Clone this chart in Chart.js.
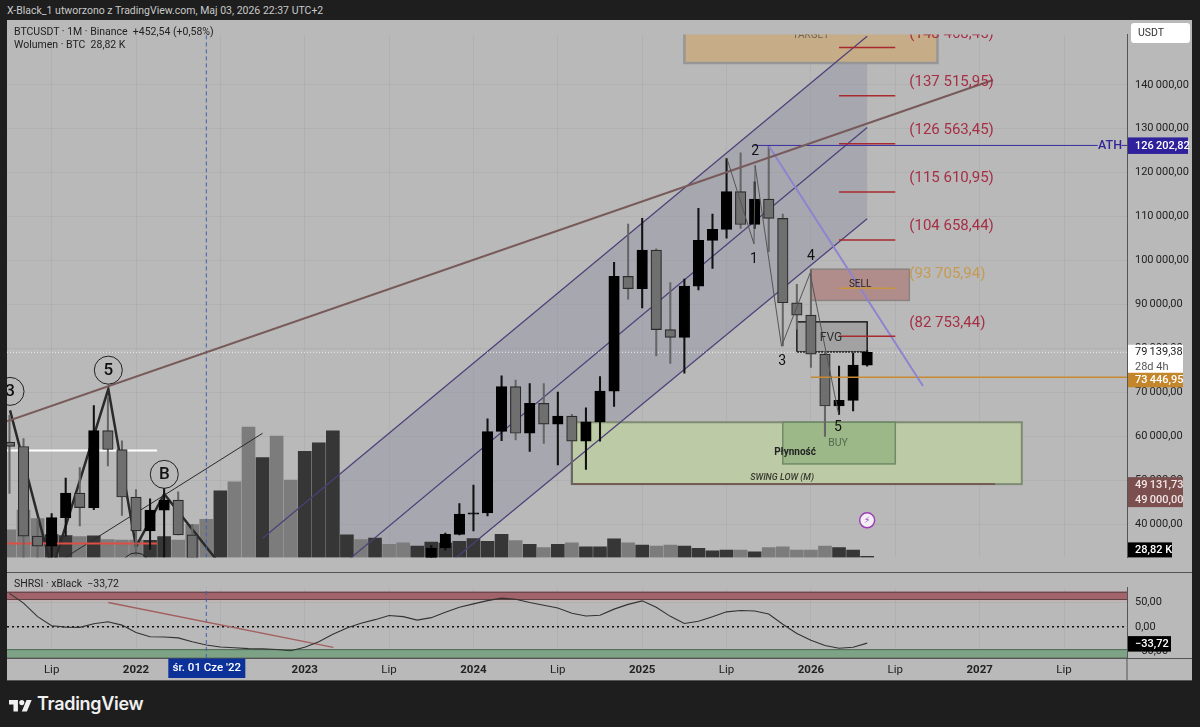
<!DOCTYPE html>
<html lang="pl">
<head>
<meta charset="UTF-8">
<title>BTCUSDT 1M</title>
<script src="https://cdn.jsdelivr.net/npm/chart.js@4"></script>
<style>
  html, body { margin: 0; width: 1200px; height: 727px; overflow: hidden; background: #1e1e1e; font-family: Roboto, sans-serif; }
  canvas { position: absolute; left: 7px; }
  #main { top: 20px; }
  #rsi { top: 573px; }
  #divider { position: absolute; left: 7px; top: 572px; width: 1185px; height: 1px; background: #555; }
  .txt { position: absolute; white-space: pre; }
  #header { left: 7px; top: 3px; color: #c9c9c9; font-size: 10.5px; line-height: 16px; }
  .legend { left: 14px; color: #222; font-size: 10.5px; line-height: 13px; }
  #footer { left: 37px; top: 693px; color: #f0f0f0; font: 600 18px Inter, sans-serif; line-height: 22px; letter-spacing: -0.3px; }
  #logo { position: absolute; left: 9px; top: 697px; }
</style>
</head>
<body>
<canvas id="main" width="1185" height="552"></canvas>
<div id="divider"></div>
<canvas id="rsi" width="1185" height="108"></canvas>
<div class="txt" id="header">X-Black_1 utworzono z TradingView.com, Maj 03, 2026 22:37 UTC+2</div>
<div class="txt legend" style="top:25px">BTCUSDT · 1M · Binance  +452,54 (+0,58%)</div>
<div class="txt legend" style="top:38px">Wolumen · BTC  28,82 K</div>
<div class="txt legend" style="top:577px">SHRSI · xBlack  −33,72</div>
<svg id="logo" width="23" height="15" viewBox="0 0 36 22" fill="#f0f0f0"><path d="M14 22H7V11H0V4h14v18zM28 22h-8l7.5-18h8L28 22z"/><circle cx="20" cy="8" r="4"/></svg>
<div class="txt" id="footer">TradingView</div>

<script>
// ---------------------------------------------------------------------------
// Data. Month positions count from Jan 2022 = 0.
// ---------------------------------------------------------------------------
const months = [
  '2021-04','2021-05','2021-06','2021-07','2021-08','2021-09','2021-10','2021-11','2021-12',
  '2022-01','2022-02','2022-03','2022-04','2022-05','2022-06','2022-07','2022-08','2022-09','2022-10','2022-11','2022-12',
  '2023-01','2023-02','2023-03','2023-04','2023-05','2023-06','2023-07','2023-08','2023-09','2023-10','2023-11','2023-12',
  '2024-01','2024-02','2024-03','2024-04','2024-05','2024-06','2024-07','2024-08','2024-09','2024-10','2024-11','2024-12',
  '2025-01','2025-02','2025-03','2025-04','2025-05','2025-06','2025-07','2025-08','2025-09','2025-10','2025-11','2025-12',
  '2026-01','2026-02','2026-03','2026-04','2026-05'
];
const opens = [
  58700,57700,37300,35000,41500,47100,43800,61300,57000,
  46200,38500,43200,45500,37600,31800,19900,23300,20000,19400,20500,17200,
  16500,23100,23100,28500,29200,27200,30500,29200,26000,27000,34600,37700,
  42300,42600,61100,71300,60700,67500,62800,64600,58900,63300,70300,96400,
  93600,102400,84300,82500,94200,104600,107100,115700,108200,114000,109600,90400,
  87600,78700,66900,68200,76200
];
const highs = [
  64800,59500,41300,42400,50500,52900,67000,69000,59000,
  47900,45800,48200,47400,40000,31800,24700,25200,22800,21000,21500,18400,
  23900,25200,29200,31000,29800,31400,31800,30200,27500,35200,38000,44700,
  48900,64000,73800,72800,72000,72000,70100,65000,66500,73600,99600,108300,
  109600,102700,95000,95800,111900,110600,123200,124500,117900,126200,110600,94600,
  97900,79300,76000,79000,79500
];
const lows = [
  47000,30000,28800,29300,37300,39600,43300,53300,42000,
  32900,34300,32500,37600,26700,17600,18800,19500,18100,18200,15500,16300,
  16500,21400,19500,26900,25800,24800,28900,25100,24900,26500,34100,37600,
  38500,41900,59000,59200,56600,58400,53500,49000,52500,58900,66800,91200,
  89200,78300,76600,74400,93300,98200,105100,107300,107300,102000,80600,84400,
  75700,60000,65000,65800,76000
];
const closes = [
  57700,37300,35000,41500,47100,43800,61300,57000,46200,
  38500,43200,45500,37600,31800,19900,23300,20000,19400,20500,17200,16500,
  23100,23100,28500,29200,27200,30500,29200,26000,27000,34600,37700,42300,
  42600,61100,71300,60700,67500,62800,64600,58900,63300,70300,96400,93600,
  102400,84300,82500,94200,104600,107100,115700,108200,114000,109600,90400,87600,
  78700,66900,68200,76200,79139.38
];
const volumes = [ // thousands of BTC
  696,1200,984,576,552,528,545,449,439,
  439,432,528,439,833,967,1687,1913,3305,2527,3072,1961,
  2688,2904,3209,569,449,487,329,367,288,391,360,408,
  480,408,583,425,329,247,329,367,271,271,473,367,
  312,288,312,288,233,168,185,185,144,247,271,185,
  185,288,247,185,28.82
];
const rsiValues = [
  68.9,48.9,21,2.2,-0.7,-1.2,6.2,10.3,3.4,
  -12,-20.5,-21.2,-22.9,-30.8,-37.6,-41.7,-43.4,-45.1,-45.6,-46.8,-49.6,
  -42.2,-30.8,-15.4,-2.4,7.4,14.7,23.2,21,13.7,18.8,30.1,40.3,
  47.2,54,59.1,56.9,50.1,44.4,38.6,27.9,22.2,23.9,36.4,46.2,
  53.5,40.3,21.5,6.8,11.3,20.5,30.8,33.5,32.5,26.2,5.1,-13.7,
  -28,-38.8,-44.4,-42.2,-33.72
];

const priceTicks = [140000,130000,120000,110000,100000,90000,80000,70000,60000,50000,40000];
const rsiTicks = [50,0,-50];
const timeTickMonths = [-6,0,6,12,18,24,30,36,42,48,54,60,66];
const timeTickLabels = ['Lip','2022','Lip','2023','Lip','2024','Lip','2025','Lip','2026','Lip','2027','Lip'];

const fibLevels = [148468.45,137515.95,126563.45,115610.95,104658.44,93705.94,82753.44];
const fibLabels = ['(148 468,45)','(137 515,95)','(126 563,45)','(115 610,95)','(104 658,44)','(93 705,94)','(82 753,44)'];

const lastPrice = 79139.38;
const athPrice = 126202.82;
const pocPrice = 73446.95;
const swingLow = 49131.73;
const crosshairMonth = 5;

// trend lines as [month, price]
const resistanceLine = [[-9.175,63427],[60.95,141078]];
const channelTop = [[9,36800],[52,151050]];
const channelMid = [[15,31600],[52,130300]];
const channelLow = [[22.8,32500],[52,109500]];
const supportLine = [[-5,32500],[9,60700]];
const oldWave = [[-8.96,65927],[-5.97,29655],[-1.97,70754],[0,34900],[2.01,46900],[5.7,32000]];
const newWave = [[42.03,123190],[43.95,103793],[44.03,121681],[45.91,80517],[47.94,97112],[49.96,65216]];
const fallingLine = [[45.02,126000],[55.97,71466]];
const rsiDivergence = [[-1.97,50.1],[14.03,-42.7]];

const channelZone = [[9,36800],[52,151050],[52,109500],[22.8,32500],[9,32500]];
// [month from, month to, price low, price high]
const greenZone = [31,63,swingLow,63211];
const buyZone = [46,54,53728,63211];
const targetZone = [39,57,144957,155000];
const sellZone = [48,55,90927,98040];
const fvgZone = [47,52,79224,86056];

const waveLabels = [['1',43.95,100345],['2',44.03,124914],['3',45.95,77069],['4',48,100991],['5',49.93,61983]];
const circleLabels = [['3',-8.96,70235],['5',-1.97,75065],['B',2.01,51358],['A',0,30300]];

// ---------------------------------------------------------------------------
// Helpers
// ---------------------------------------------------------------------------
const X_MIN = -9.175, X_MAX = 70.48;
const FONT = 'Roboto, sans-serif';
const GRID = 'rgba(0,0,0,0.045)';
const positions = months.map(s => {
  const [y, m] = s.split('-').map(Number);
  return (y - 2022) * 12 + m - 1;
});
const isUp = closes.map((c, i) => c >= opens[i]);

const fmt = v => {
  const [a, b] = Math.abs(v).toFixed(2).split('.');
  return (v < 0 ? '−' : '') + a.replace(/\B(?=(\d{3})+$)/g, '\u2009') + ',' + b;
};
const pts = list => list.map(([x, y]) => ({ x, y }));

function lineDs(list, color, width, order, dash) {
  return {
    type: 'line', data: pts(list), borderColor: color, borderWidth: width, order,
    borderDash: dash || [], pointRadius: 0, tension: 0, fill: false, yAxisID: 'y',
  };
}

function xAxis(display) {
  return {
    type: 'linear', min: X_MIN, max: X_MAX, offset: false,
    grid: { offset: false, color: GRID, drawTicks: false },
    border: { display: false },
    afterBuildTicks: s => { s.ticks = timeTickMonths.map(value => ({ value })); },
    afterFit: s => { s.height = display ? 23 : 0; },
    ticks: {
      display, autoSkip: false, maxRotation: 0, minRotation: 0, padding: 5, color: '#222',
      callback: (v, i) => timeTickLabels[i],
      font: c => ({ family: FONT, size: 11.5, weight: /^\d/.test(timeTickLabels[c.index]) ? 'bold' : 'normal' }),
    },
  };
}

function yAxis(min, max, values, label) {
  return {
    position: 'right', min, max,
    grid: { color: GRID, drawTicks: false },
    border: { display: true, color: '#555' },
    afterBuildTicks: s => { s.ticks = values.map(value => ({ value })); },
    afterFit: s => { s.width = 65; },
    ticks: { crossAlign: 'near', padding: 8, color: '#222', font: { family: FONT, size: 11 }, callback: label },
  };
}

function text(ctx, str, x, y, font, color, align) {
  ctx.font = font;
  ctx.fillStyle = color;
  ctx.textAlign = align || 'center';
  ctx.textBaseline = 'middle';
  ctx.fillText(str, x, y);
}

function flag(ctx, x, y, w, h, bg, lines, fg, bold) {
  ctx.fillStyle = bg;
  ctx.fillRect(x, y, w, h);
  lines.forEach((l, i) => {
    text(ctx, l, x + 7, y + (h / lines.length) * (i + 0.5) + 0.5, `${bold ? '500 ' : ''}11px ${FONT}`, i ? fg[1] : fg[0], 'left');
  });
}

const PANEL = {
  id: 'panel',
  beforeDraw(c) {
    c.ctx.fillStyle = '#b9b9b9';
    c.ctx.fillRect(0, 0, c.width, c.height);
  },
};

// ---------------------------------------------------------------------------
// Price pane
// ---------------------------------------------------------------------------
const drawings = {
  id: 'drawings',
  beforeDatasetsDraw(c) {
    const { ctx, chartArea: a, scales: { x, y } } = c;
    const box = ([x0, x1, p0, p1], fill, stroke, lw) => {
      const l = x.getPixelForValue(x0), r = x.getPixelForValue(x1);
      const t = y.getPixelForValue(p1), b = y.getPixelForValue(p0);
      ctx.fillStyle = fill;
      ctx.fillRect(l, t, r - l, b - t);
      ctx.strokeStyle = stroke;
      ctx.lineWidth = lw;
      ctx.strokeRect(l, t, r - l, b - t);
    };
    ctx.save();
    ctx.beginPath();
    ctx.rect(a.left, a.top, a.width, a.height);
    ctx.clip();
    ctx.beginPath();
    channelZone.forEach(([m, p], i) => ctx[i ? 'lineTo' : 'moveTo'](x.getPixelForValue(m), y.getPixelForValue(p)));
    ctx.closePath();
    ctx.fillStyle = 'rgba(130,132,158,0.32)';
    ctx.fill();
    box(greenZone, '#bccaa5', '#7f8b75', 2);
    box(buyZone, '#9db888', '#6f8a66', 1.5);
    box(targetZone, '#c6ad88', '#969696', 2.5);
    box(sellZone, '#b08d8a', '#8a8380', 1.5);
    box(fvgZone, '#a2a2a2', '#1c1c1c', 1.5);
    ctx.restore();
  },
  afterDatasetsDraw(c) {
    const { ctx, chartArea: a, scales: { x, y } } = c;
    ctx.save();
    ctx.beginPath();
    ctx.rect(a.left, a.top, a.width, a.height);
    ctx.clip();
    const at = (m, p) => [x.getPixelForValue(m), y.getPixelForValue(p)];

    fibLevels.forEach((p, i) => {
      const [px, py] = at(55, p);
      text(ctx, fibLabels[i], px, py - 13.5, `15px ${FONT}`, i === 5 ? '#c69a52' : '#a62f44', 'left');
    });
    text(ctx, 'TARGET', ...at(48, 151200), `10px ${FONT}`, '#6e6352');
    text(ctx, 'SELL', ...at(51.5, 94525), `10px ${FONT}`, '#2c2422');
    text(ctx, 'FVG', ...at(49.43, 82457), `12px ${FONT}`, '#2e2e2e');
    text(ctx, 'BUY', ...at(49.93, 58319), `10.5px ${FONT}`, '#566a50');
    text(ctx, 'Płynność', ...at(46.87, 56379), `bold 10px ${FONT}`, '#222');
    text(ctx, 'SWING LOW (M)', ...at(45.95, 50560), `italic 500 9px ${FONT}`, '#3a3a30');
    waveLabels.forEach(([s, m, p]) => text(ctx, s, ...at(m, p), `14px ${FONT}`, '#111'));
    circleLabels.forEach(([s, m, p]) => {
      const [px, py] = at(m, p);
      ctx.beginPath();
      ctx.arc(px, py, 14, 0, Math.PI * 2);
      ctx.strokeStyle = '#222';
      ctx.lineWidth = 1;
      ctx.stroke();
      text(ctx, s, px, py + 0.5, `500 17px ${FONT}`, '#111');
    });
    text(ctx, 'ATH', a.right - 17, y.getPixelForValue(athPrice), `500 12.5px ${FONT}`, '#33279a');

    // pending-event badge on the last bar
    const [bx, by] = at(52, 40900);
    ctx.beginPath();
    ctx.arc(bx, by, 7.5, 0, Math.PI * 2);
    ctx.fillStyle = '#f4eef7';
    ctx.fill();
    ctx.strokeStyle = '#9c3fb5';
    ctx.lineWidth = 1.5;
    ctx.stroke();
    text(ctx, '⚡', bx, by + 0.5, '9px "DejaVu Sans"', '#9c3fb5');
    ctx.restore();
  },
  afterDraw(c) {
    const { ctx, chartArea: a, scales: { y } } = c;
    const left = a.right + 1;
    const mid = p => y.getPixelForValue(p);
    ctx.save();
    // currency button
    ctx.fillStyle = '#fff';
    ctx.beginPath();
    ctx.roundRect(left + 3, 3, 59, 20, 3);
    ctx.fill();
    text(ctx, 'USDT', left + 10, 13.5, `10.5px ${FONT}`, '#333', 'left');

    flag(ctx, left, mid(athPrice) - 8, 60, 16.5, '#2f219c', [fmt(athPrice)], ['#fff'], true);
    flag(ctx, left, mid(lastPrice) - 7.5, 55, 29, '#fff', [fmt(lastPrice), '28d 4h'], ['#222', '#555']);
    flag(ctx, left, mid(pocPrice) - 4.5, 55, 14.5, '#c4862b', [fmt(pocPrice)], ['#fff'], true);
    flag(ctx, left, mid(swingLow) - 7, 55, 30, '#7c4f4f', [fmt(swingLow), fmt(49000)], ['#f3e6e6', '#f3e6e6'], true);
    flag(ctx, left, a.bottom - 15, 44, 15, '#000', ['28,82 K'], ['#fff'], true);
    ctx.restore();
  },
};

new Chart(document.getElementById('main'), {
  type: 'bar',
  data: {
    datasets: [
      {
        label: 'Wolumen', yAxisID: 'vol', order: 50, grouped: false, barThickness: 13,
        data: positions.map((x, i) => ({ x, y: volumes[i] })),
        backgroundColor: isUp.map(u => (u ? '#363636' : '#7c7c7c')),
      },
      lineDs(channelTop, '#4d3f78', 1.2, 30),
      lineDs(channelMid, '#4d3f78', 1.2, 30),
      lineDs(channelLow, '#4d3f78', 1.2, 30),
      lineDs(supportLine, '#2a2a2a', 1, 30),
      lineDs(oldWave, '#2a2a2a', 2.5, 30),
      lineDs([[X_MIN, 56810], [1.5, 56810]], '#ffffff', 2, 30),
      lineDs([[X_MIN, 35625], [1.5, 35625]], '#dd4f45', 2, 29),
      lineDs([[31, swingLow], [61.1, swingLow]], '#6d4c4c', 1.5, 29),
      lineDs([[X_MIN, lastPrice], [X_MAX, lastPrice]], '#f4f4f4', 1, 28, [1, 2]),
      lineDs([[crosshairMonth, 32457], [crosshairMonth, 151422]], '#3f5fa8', 1, 28, [4, 3]),
      {
        label: 'wicks', order: 12, grouped: false, barThickness: 1.4, yAxisID: 'y',
        data: positions.map((x, i) => ({ x, y: [lows[i], highs[i]] })),
        backgroundColor: isUp.map(u => (u ? '#111' : '#666')),
      },
      {
        label: 'bodies', order: 10, grouped: false, barThickness: 10.5, yAxisID: 'y', borderSkipped: false,
        data: positions.map((x, i) => ({ x, y: [opens[i], closes[i]] })),
        backgroundColor: isUp.map(u => (u ? '#000' : '#6f6f6f')),
        borderColor: isUp.map(u => (u ? '#000' : '#2c2c2c')),
        borderWidth: 1.2,
      },
      lineDs(newWave, '#555', 1, 5),
      lineDs(resistanceLine, '#775a5a', 2, 5),
      lineDs(fallingLine, '#8f83cf', 2, 5),
      lineDs([[43.97, athPrice], [68.4, athPrice]], '#3a2da0', 1, 5),
      lineDs([[70.1, athPrice], [X_MAX, athPrice]], '#3a2da0', 1, 5),
      lineDs([[48, pocPrice], [X_MAX, pocPrice]], '#c78a30', 1.5, 5),
      ...fibLevels.map((p, i) => lineDs([[50, p], [54, p]], i === 5 ? '#c8953f' : '#a82a2e', 1.5, 4)),
    ],
  },
  options: {
    responsive: false, animation: false, events: [],
    layout: { padding: 0 },
    plugins: { legend: { display: false }, tooltip: { enabled: false } },
    scales: {
      x: xAxis(false),
      y: yAxis(32457, 151422, priceTicks, fmt),
      vol: { display: false, min: 0, max: 13248 },
    },
  },
  plugins: [PANEL, drawings],
});

// ---------------------------------------------------------------------------
// RSI pane with the time axis below it
// ---------------------------------------------------------------------------
const rsiDrawings = {
  id: 'rsiDrawings',
  beforeDatasetsDraw(c) {
    const { ctx, chartArea: a, scales: { y } } = c;
    const band = (hi, lo, fill) => {
      ctx.fillStyle = fill;
      ctx.fillRect(a.left, y.getPixelForValue(hi), a.width, y.getPixelForValue(lo) - y.getPixelForValue(hi));
    };
    band(72.3, 57.4, '#a2636b');
    band(57.4, 54.7, '#dd9d9d');
    band(-46.2, -63.2, '#7ea285');
    ctx.fillStyle = '#5c3f43';
    ctx.fillRect(a.left, y.getPixelForValue(72.3), a.width, 1);
    ctx.fillRect(a.left, y.getPixelForValue(57.4), a.width, 1);
    ctx.fillStyle = '#4c6a52';
    ctx.fillRect(a.left, y.getPixelForValue(-46.2), a.width, 1);
    ctx.fillRect(a.left, y.getPixelForValue(-63.2), a.width, 1);
  },
  afterDraw(c) {
    const { ctx, chartArea: a, scales: { x, y } } = c;
    ctx.save();
    ctx.fillStyle = '#555';
    ctx.fillRect(a.left, a.bottom, c.width - a.left, 1);
    ctx.fillRect(a.right - 0.5, a.bottom, 1, 23);
    ctx.fillRect(0, c.height - 1, c.width, 1);
    flag(ctx, a.right + 1, y.getPixelForValue(-33.72) - 7, 43, 15.5, '#000', [fmt(-33.72)], ['#fff'], true);
    const cx = x.getPixelForValue(crosshairMonth);
    ctx.fillStyle = '#0c3299';
    ctx.fillRect(cx - 38, a.bottom + 0.5, 77, 19.5);
    text(ctx, "śr. 01 Cze '22", cx + 0.5, a.bottom + 10.5, `500 11.5px ${FONT}`, '#fff');
    ctx.restore();
  },
};

new Chart(document.getElementById('rsi'), {
  type: 'line',
  data: {
    datasets: [
      lineDs([[X_MIN, 0], [X_MAX, 0]], '#111', 1.6, 8, [2, 3]),
      lineDs([[crosshairMonth, -64.44], [crosshairMonth, 80.85]], '#3f5fa8', 1, 8, [4, 3]),
      lineDs(rsiDivergence, '#a45f5f', 1.3, 6),
      {
        label: 'SHRSI', type: 'line', order: 4, yAxisID: 'y',
        data: positions.map((x, i) => ({ x, y: rsiValues[i] })),
        borderColor: '#333', borderWidth: 1.1, pointRadius: 0, tension: 0, fill: false,
      },
    ],
  },
  options: {
    responsive: false, animation: false, events: [],
    layout: { padding: 0 },
    plugins: { legend: { display: false }, tooltip: { enabled: false } },
    scales: {
      x: xAxis(true),
      y: yAxis(-64.44, 80.85, rsiTicks, fmt),
    },
  },
  plugins: [PANEL, rsiDrawings],
});
</script>
</body>
</html>
